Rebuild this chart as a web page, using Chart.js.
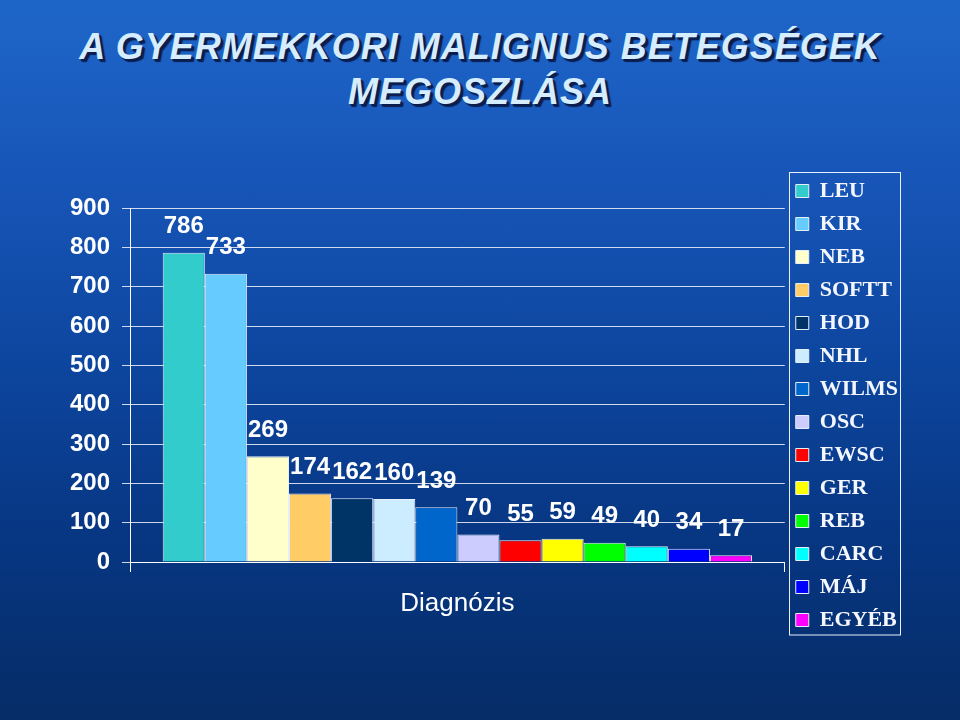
<!DOCTYPE html>
<html>
<head>
<meta charset="utf-8">
<script src="https://cdn.jsdelivr.net/npm/chart.js@4"></script>
<style>
  html, body { margin: 0; padding: 0; }
  body {
    width: 960px; height: 720px; overflow: hidden; position: relative;
    background: linear-gradient(to bottom, #1f66c9 0%, #1857ba 22%, #0d469f 50%, #073682 75%, #052c66 100%);
  }
  #title {
    position: absolute; left: 0; top: 24px; width: 960px; margin: 0;
    text-align: center; color: #d6ecff;
    font: italic bold 36px 'Liberation Sans', Arial, sans-serif;
    letter-spacing: 1px;
    line-height: 45px;
    text-shadow: 2px 2px 0 #0b1d4d, 3px 3px 1px #0b1d4d;
  }
  #wrap { position: absolute; left: 0; top: 0; width: 960px; height: 720px; }
</style>
</head>
<body>
<h1 id="title">A GYERMEKKORI MALIGNUS BETEGSÉGEK<br>MEGOSZLÁSA</h1>
<div id="wrap"><canvas id="chart" width="960" height="720"></canvas></div>
<script>
const categories = ['Diagnózis'];
const diagnoses = ['LEU', 'KIR', 'NEB', 'SOFTT', 'HOD', 'NHL', 'WILMS', 'OSC', 'EWSC', 'GER', 'REB', 'CARC', 'MÁJ', 'EGYÉB'];
const counts = [786, 733, 269, 174, 162, 160, 139, 70, 55, 59, 49, 40, 34, 17];
const colors = ['#33CCCC', '#66CCFF', '#FFFFCC', '#FFCC66', '#003366', '#CCECFF', '#0066CC',
                '#CCCCFF', '#FF0000', '#FFFF00', '#00FF00', '#00FFFF', '#0000FF', '#FF00FF'];
const yTicks = [0, 100, 200, 300, 400, 500, 600, 700, 800, 900];

// values above the bars
const valueLabels = {
  id: 'valueLabels',
  afterDatasetsDraw(chart) {
    const ctx = chart.ctx;
    ctx.save();
    ctx.font = 'bold 24px "Liberation Sans", Arial, sans-serif';
    ctx.fillStyle = '#ffffff';
    ctx.textAlign = 'center';
    ctx.textBaseline = 'middle';
    chart.data.datasets.forEach((ds, i) => {
      const bar = chart.getDatasetMeta(i).data[0];
      ctx.fillText(ds.data[0], bar.x, bar.y - 26);
    });
    ctx.restore();
  }
};

// white frame round the legend
const legendFrame = {
  id: 'legendFrame',
  afterDraw(chart) {
    const boxes = chart.legend.legendHitBoxes;
    if (!boxes || !boxes.length) return;
    const first = boxes[0], last = boxes[boxes.length - 1];
    const ctx = chart.ctx;
    ctx.save();
    ctx.strokeStyle = '#e8f0ff';
    ctx.lineWidth = 1;
    const top = Math.round(first.top) - 7.5;
    ctx.strokeRect(Math.round(first.left) - 6.5, top, 111, Math.round(last.top + last.height) + 4 - top);
    ctx.restore();
  }
};

new Chart(document.getElementById('chart'), {
  type: 'bar',
  data: {
    labels: categories,
    datasets: diagnoses.map((name, i) => ({
      label: name,
      data: [counts[i]],
      backgroundColor: colors[i],
      borderColor: '#e6eefa',
      borderWidth: 1
    }))
  },
  options: {
    responsive: false,
    animation: false,
    events: [],
    layout: { padding: { left: 0, top: 160, right: 52, bottom: 69 } },
    datasets: { bar: { categoryPercentage: 0.9, barPercentage: 1 } },
    plugins: {
      // empty spacer above the plot, keeps the legend free to centre itself
      title: { display: true, text: '', fullSize: false, padding: 0, font: { size: 48, lineHeight: 1 } },
      tooltip: { enabled: false },
      legend: {
        position: 'right',
        labels: {
          color: '#f4f7ff',
          font: { family: '"Liberation Serif", "Times New Roman", serif', size: 22, weight: 'bold' },
          boxWidth: 13,
          boxHeight: 13,
          padding: 11
        }
      }
    },
    scales: {
      x: {
        afterFit: s => { s.height = 89; },
        grid: { display: true, drawOnChartArea: false, color: '#ffffff', tickLength: 10, lineWidth: 1 },
        border: { color: '#ffffff' },
        ticks: {
          color: '#ffffff', padding: 16,
          font: { family: '"Liberation Sans", Arial, sans-serif', size: 26 }
        }
      },
      y: {
        min: 0, max: 900,
        afterFit: s => { s.width = 130; },
        afterBuildTicks: s => { s.ticks = yTicks.map(v => ({ value: v })); },
        grid: { color: 'rgba(255,255,255,0.8)', tickLength: 8, lineWidth: 1 },
        border: { color: '#ffffff' },
        ticks: {
          color: '#ffffff', padding: 12,
          font: { family: '"Liberation Sans", Arial, sans-serif', size: 24, weight: 'bold' }
        }
      }
    }
  },
  plugins: [valueLabels, legendFrame]
});
</script>
</body>
</html>
